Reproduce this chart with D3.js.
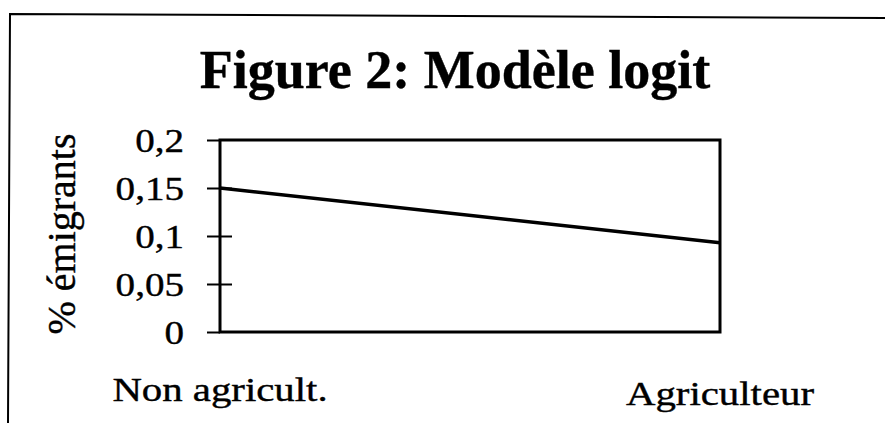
<!DOCTYPE html>
<html>
<head>
<meta charset="utf-8">
<script src="https://cdn.jsdelivr.net/npm/d3@7"></script>
<style>
  body { margin: 0; background: #fff; }
  text { font-family: "Liberation Serif", "Times New Roman", serif; fill: #000; stroke: #000; stroke-width: 0.4px; }
</style>
</head>
<body>
<div class="chart"></div>
<script>
// data
var categories = ["Non agricult.", "Agriculteur"];
var shares = [0.15, 0.093];
var yTicks = [0, 0.05, 0.1, 0.15, 0.2];
var yTickLabels = ["0", "0,05", "0,1", "0,15", "0,2"];

var svgWidth = 885;
var svgHeight = 423;

var margin = { top: 140, right: 165, bottom: 91, left: 220 };
var width = svgWidth - margin.left - margin.right;
var height = svgHeight - margin.top - margin.bottom;

var svg = d3.select(".chart")
    .append("svg")
    .attr("width", svgWidth)
    .attr("height", svgHeight);

// frame of the scanned page (only top and left edges visible)
svg.append("path")
    .attr("d", "M8,423 L10,14 L885,18")
    .attr("fill", "none")
    .attr("stroke", "#000")
    .attr("stroke-width", 2);

// title
svg.append("text")
    .attr("x", 455)
    .attr("y", 88)
    .attr("text-anchor", "middle")
    .style("font-size", "54px")
    .style("font-weight", "bold")
    .text("Figure 2: Modèle logit");

var chartGroup = svg.append("g")
    .attr("transform", `translate(${margin.left}, ${margin.top})`);

// scales
var xScale = d3.scalePoint()
    .domain(categories)
    .range([0, width])
    .padding(0);

var yScale = d3.scaleLinear()
    .domain([0, 0.2])
    .range([height, 0]);

// plot box
chartGroup.append("rect")
    .attr("x", 0)
    .attr("y", 0)
    .attr("width", width)
    .attr("height", height)
    .attr("fill", "none")
    .attr("stroke", "#000")
    .attr("stroke-width", 3);

// y axis with crossing ticks
var leftAxis = d3.axisLeft(yScale)
    .tickValues(yTicks)
    .tickSize(0)
    .tickFormat("");

var yAxis = chartGroup.append("g").call(leftAxis);
yAxis.select(".domain").remove();

yAxis.selectAll(".tick").append("line")
    .attr("x1", -13)
    .attr("x2", d => (d === 0 || d === 0.2) ? 0 : 12)
    .attr("stroke", "#000")
    .attr("stroke-width", 2);

yAxis.selectAll(".tick").append("text")
    .attr("text-anchor", "end")
    .attr("dy", "0.34em")
    .attr("transform", "translate(-36,0) scale(1.15,1)")
    .style("font-size", "34px")
    .text((d, i) => yTickLabels[i]);

// y axis title
chartGroup.append("text")
    .attr("transform", `translate(-145, ${height / 2 - 2}) rotate(-90)`)
    .attr("text-anchor", "middle")
    .style("font-size", "40px")
    .text("% émigrants");

// category labels
chartGroup.selectAll(".cat")
    .data(categories)
    .enter()
    .append("text")
    .attr("class", "cat")
    .attr("text-anchor", "middle")
    .attr("transform", (d, i) => `translate(${xScale(d)}, ${height + 69 + i * 4}) scale(1.2,1)`)
    .style("font-size", "34px")
    .text(d => d);

// the line
var line = d3.line()
    .x((d, i) => xScale(categories[i]))
    .y(d => yScale(d));

chartGroup.append("path")
    .datum(shares)
    .attr("d", line)
    .attr("fill", "none")
    .attr("stroke", "#000")
    .attr("stroke-width", 3.5);
</script>
</body>
</html>
